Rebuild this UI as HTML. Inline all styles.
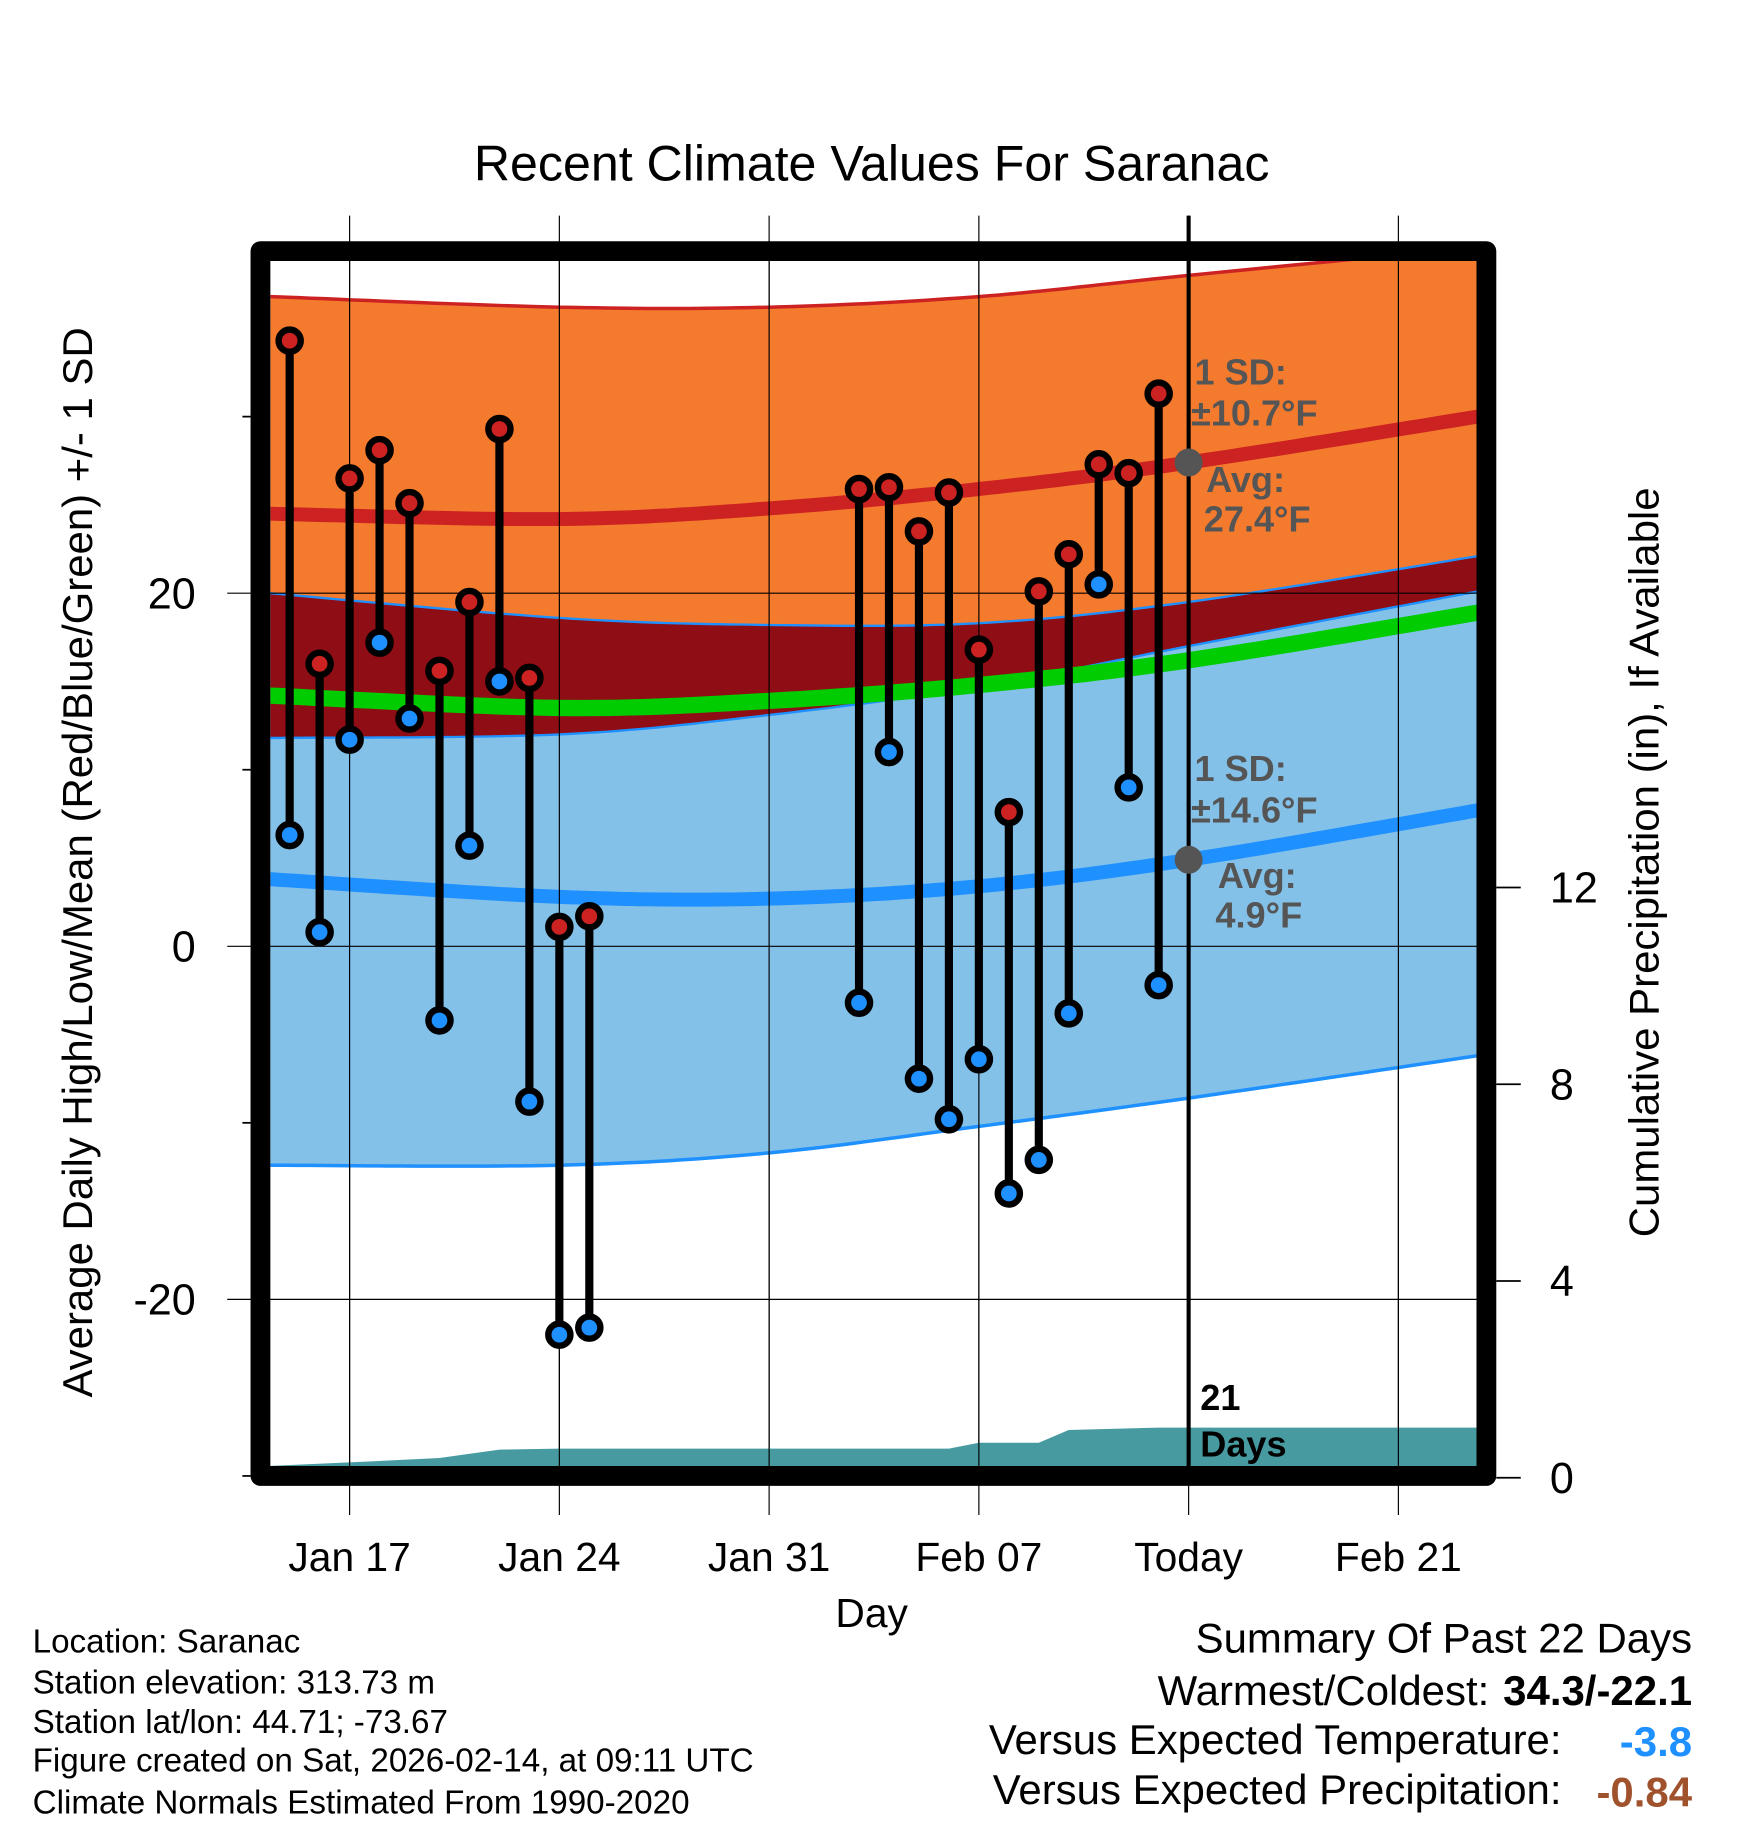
<!DOCTYPE html>
<html><head><meta charset="utf-8"><style>
html,body{margin:0;padding:0;background:#fff}
svg{display:block}
text{font-family:"Liberation Sans",sans-serif}
</style></head><body>
<svg id="chart" width="1748" height="1828" viewBox="0 0 1500 1568.6" preserveAspectRatio="none" xmlns="http://www.w3.org/2000/svg">
<defs><clipPath id="plotclip"><rect x="232" y="224" width="1035" height="1034"/></clipPath></defs>
<rect width="1500" height="1568.6" fill="#fff"/>
<text x="748" y="155" font-size="43" text-anchor="middle">Recent Climate Values For Saranac</text>
<g id="grid"></g>
<g id="bands" clip-path="url(#plotclip)"></g>
<g id="marks"></g>
<rect x="223.5" y="215.5" width="1052" height="1051" fill="none" stroke="#000" stroke-width="17" stroke-linejoin="round"/>
<g id="axes"></g>
<g font-weight="bold" fill="#555" font-size="31">
<text x="1025" y="330">1 SD:</text>
<text x="1022" y="365">±10.7°F</text>
<text x="1035" y="422">Avg:</text>
<text x="1033" y="456">27.4°F</text>
<text x="1025" y="670">1 SD:</text>
<text x="1022" y="706">±14.6°F</text>
<text x="1045" y="762">Avg:</text>
<text x="1043" y="796">4.9°F</text>
<text x="1030" y="1210" fill="#000">21</text>
<text x="1030" y="1250" fill="#000">Days</text>
</g>
<text transform="translate(79,740) rotate(-90)" font-size="36" text-anchor="middle">Average Daily High/Low/Mean (Red/Blue/Green) +/- 1 SD</text>
<text transform="translate(1423,740) rotate(-90)" font-size="36" text-anchor="middle">Cumulative Precipitation (in), If Available</text>
<text x="748" y="1396" font-size="35" text-anchor="middle">Day</text>
<g font-size="28.5">
<text x="28" y="1418">Location: Saranac</text>
<text x="28" y="1453">Station elevation: 313.73 m</text>
<text x="28" y="1487">Station lat/lon: 44.71; -73.67</text>
<text x="28" y="1520">Figure created on Sat, 2026-02-14, at 09:11 UTC</text>
<text x="28" y="1556">Climate Normals Estimated From 1990-2020</text>
</g>
<g font-size="36" text-anchor="end">
<text x="1452" y="1418">Summary Of Past 22 Days</text>
<text x="1278" y="1463">Warmest/Coldest:</text>
<text x="1452" y="1463" font-weight="bold">34.3/-22.1</text>
<text x="1340" y="1505">Versus Expected Temperature:</text>
<text x="1452" y="1507" font-weight="bold" fill="#1e90ff">-3.8</text>
<text x="1340" y="1548">Versus Expected Precipitation:</text>
<text x="1452" y="1550" font-weight="bold" fill="#a0522d">-0.84</text>
</g>
</svg>
<script>
// Daily observations (day index, Jan 17 = 17, Feb 7 = 38)
const obsDays = [15,16,17,18,19,20,21,22,23,24,25,34,35,36,37,38,39,40,41,42,43,44];
const highs = [34.3,16.0,26.5,28.1,25.1,15.6,19.5,29.3,15.2,1.1,1.7,25.9,26.0,23.5,25.7,16.8,7.6,20.1,22.2,27.3,26.8,31.3];
const lows = [6.3,0.8,11.7,17.2,12.9,-4.2,5.7,15.0,-8.8,-22.0,-21.6,-3.2,11.0,-7.5,-9.8,-6.4,-14.0,-12.1,-3.8,20.5,9.0,-2.2];
// Normals
const normDays = [14.35,24,31,38,45,54.65];
const hiAvg = [24.5,24.2,24.8,25.9,27.4,30.0];
const hiUpper = [36.8,36.2,36.2,36.8,38.0,39.6];
const hiLower = [20.0,18.6,18.2,18.3,19.5,22.1];
const loAvg = [3.8,2.8,2.7,3.4,4.9,7.7];
const loUpper = [11.8,12.0,13.1,14.7,17.0,20.1];
const loLower = [-12.4,-12.4,-11.7,-10.2,-8.6,-6.2];
const meanAvg = [14.2,13.5,13.9,14.8,16.2,18.9];
// Cumulative precipitation
const precDays = [14.35,17,20,22,24,37,38,40,41,44,54.65];
const precVals = [0.24,0.31,0.40,0.57,0.59,0.59,0.71,0.71,0.97,1.02,1.02];
// Ticks
const xTickDays = [17,24,31,38,45,52];
const xTickLabels = ["Jan 17","Jan 24","Jan 31","Feb 07","Today","Feb 21"];
const yTicks = [20,0,-20];
const yMinor = [30,10,-10,-30];
const y2Ticks = [0,4,8,12];

const NS="http://www.w3.org/2000/svg";
const X = d => 300 + (d-17)*25.714;
const Y = t => 812 - t*15.15;
const Y2 = p => 1268 - p*42.2;
function mk(tag, attrs, parent){const e=document.createElementNS(NS,tag);for(const k in attrs)e.setAttribute(k,attrs[k]);parent.appendChild(e);return e;}
const grid=document.getElementById('grid'), bands=document.getElementById('bands'), marks=document.getElementById('marks'), axes=document.getElementById('axes');
// Catmull-Rom smoothing through normals
function smooth(ds,vs){
  const out=[];const n=ds.length;
  for(let i=0;i<n-1;i++){
    const p0=[ds[Math.max(i-1,0)],vs[Math.max(i-1,0)]],p1=[ds[i],vs[i]],p2=[ds[i+1],vs[i+1]],p3=[ds[Math.min(i+2,n-1)],vs[Math.min(i+2,n-1)]];
    for(let k=0;k<20;k++){const t=k/20,t2=t*t,t3=t2*t;
      const f=j=>0.5*((2*p1[j])+(-p0[j]+p2[j])*t+(2*p0[j]-5*p1[j]+4*p2[j]-p3[j])*t2+(-p0[j]+3*p1[j]-3*p2[j]+p3[j])*t3);
      out.push([f(0),f(1)]);}
  }
  out.push([ds[n-1],vs[n-1]]);
  return out;
}
const spts=(ds,vs)=>smooth(ds,vs).map(p=>X(p[0]).toFixed(1)+','+Y(p[1]).toFixed(1));
const pts=(ds,vs,f)=>ds.map((d,i)=>X(d).toFixed(1)+','+f(vs[i]).toFixed(1));
function band(up,lo,fill,name){
  const p=spts(normDays,up).concat(spts(normDays,lo).reverse()).join(' ');
  const e=mk('polygon',{points:p,fill:fill},bands);
  
  
}
function line(vs,color,w,name){
  const e=mk('polyline',{points:spts(normDays,vs).join(' '),fill:'none',stroke:color,'stroke-width':w},bands);
  
  
}
xTickDays.forEach(d=>{const l=mk('line',{x1:X(d),x2:X(d),y1:185,y2:1300,stroke:'#000','stroke-width':1},grid);
  
  });
band(loUpper,loLower,'#83c1e8','low-sd-band');
band(hiUpper,hiLower,'#f47a2e','high-sd-band');
band(hiLower,loUpper,'#8f0d14','overlap-band');
line(hiUpper,'#cc2222',3,'high-upper-edge');
line(loUpper,'#1e90ff',2,'low-upper-edge');
line(hiLower,'#1e90ff',2,'high-lower-edge');
line(loLower,'#1e90ff',3,'low-lower-edge');
line(meanAvg,'#00cc00',14,'mean-line');
line(hiAvg,'#cc2222',12,'high-avg-line');
line(loAvg,'#1e90ff',12,'low-avg-line');
{const p=pts(precDays,precVals,Y2);p.push(X(precDays[precDays.length-1]).toFixed(1)+',1260',X(precDays[0]).toFixed(1)+',1260');
 const e=mk('polygon',{points:p.join(' '),fill:'#469aa0'},bands);
 
 }
yTicks.forEach(t=>{const l=mk('line',{x1:195,x2:1267,y1:Y(t),y2:Y(t),stroke:'#000','stroke-width':1},marks);
  
  });
xTickDays.forEach(d=>{mk('line',{x1:X(d),x2:X(d),y1:224,y2:1258,stroke:'#000','stroke-width':1},marks);});
{const e=mk('line',{x1:X(45),x2:X(45),y1:185,y2:1258,stroke:'#000','stroke-width':3.5},marks);
 
 
 mk('circle',{cx:X(45),cy:Y(hiAvg[4]),r:12,fill:'#555'},marks);
 mk('circle',{cx:X(45),cy:Y(loAvg[4]),r:12,fill:'#555'},marks);}
obsDays.forEach((d,i)=>{
  const g=mk('g',{},marks);
  
  
  mk('line',{x1:X(d),x2:X(d),y1:Y(highs[i]),y2:Y(lows[i]),stroke:'#000','stroke-width':7},g);
  mk('circle',{cx:X(d),cy:Y(highs[i]),r:9.5,fill:'#cc2222',stroke:'#000','stroke-width':5.5},g);
  mk('circle',{cx:X(d),cy:Y(lows[i]),r:9.5,fill:'#1e90ff',stroke:'#000','stroke-width':5.5},g);
});
xTickDays.forEach((d,i)=>{const t=mk('text',{x:X(d),y:1348,'font-size':35,'text-anchor':'middle'},axes);t.textContent=xTickLabels[i];
  
  });
yTicks.forEach(v=>{const t=mk('text',{x:168,y:Y(v)+13,'font-size':37,'text-anchor':'end'},axes);t.textContent=String(v);
  
  });
yMinor.forEach(v=>{mk('line',{x1:208,x2:215,y1:Y(v),y2:Y(v),stroke:'#000','stroke-width':1.5},axes);});
y2Ticks.forEach(v=>{mk('line',{x1:1284,x2:1305,y1:Y2(v),y2:Y2(v),stroke:'#000','stroke-width':1.5},axes);
  const t=mk('text',{x:1330,y:Y2(v)+13,'font-size':37},axes);t.textContent=String(v);
  
  });
</script>
</body></html>
